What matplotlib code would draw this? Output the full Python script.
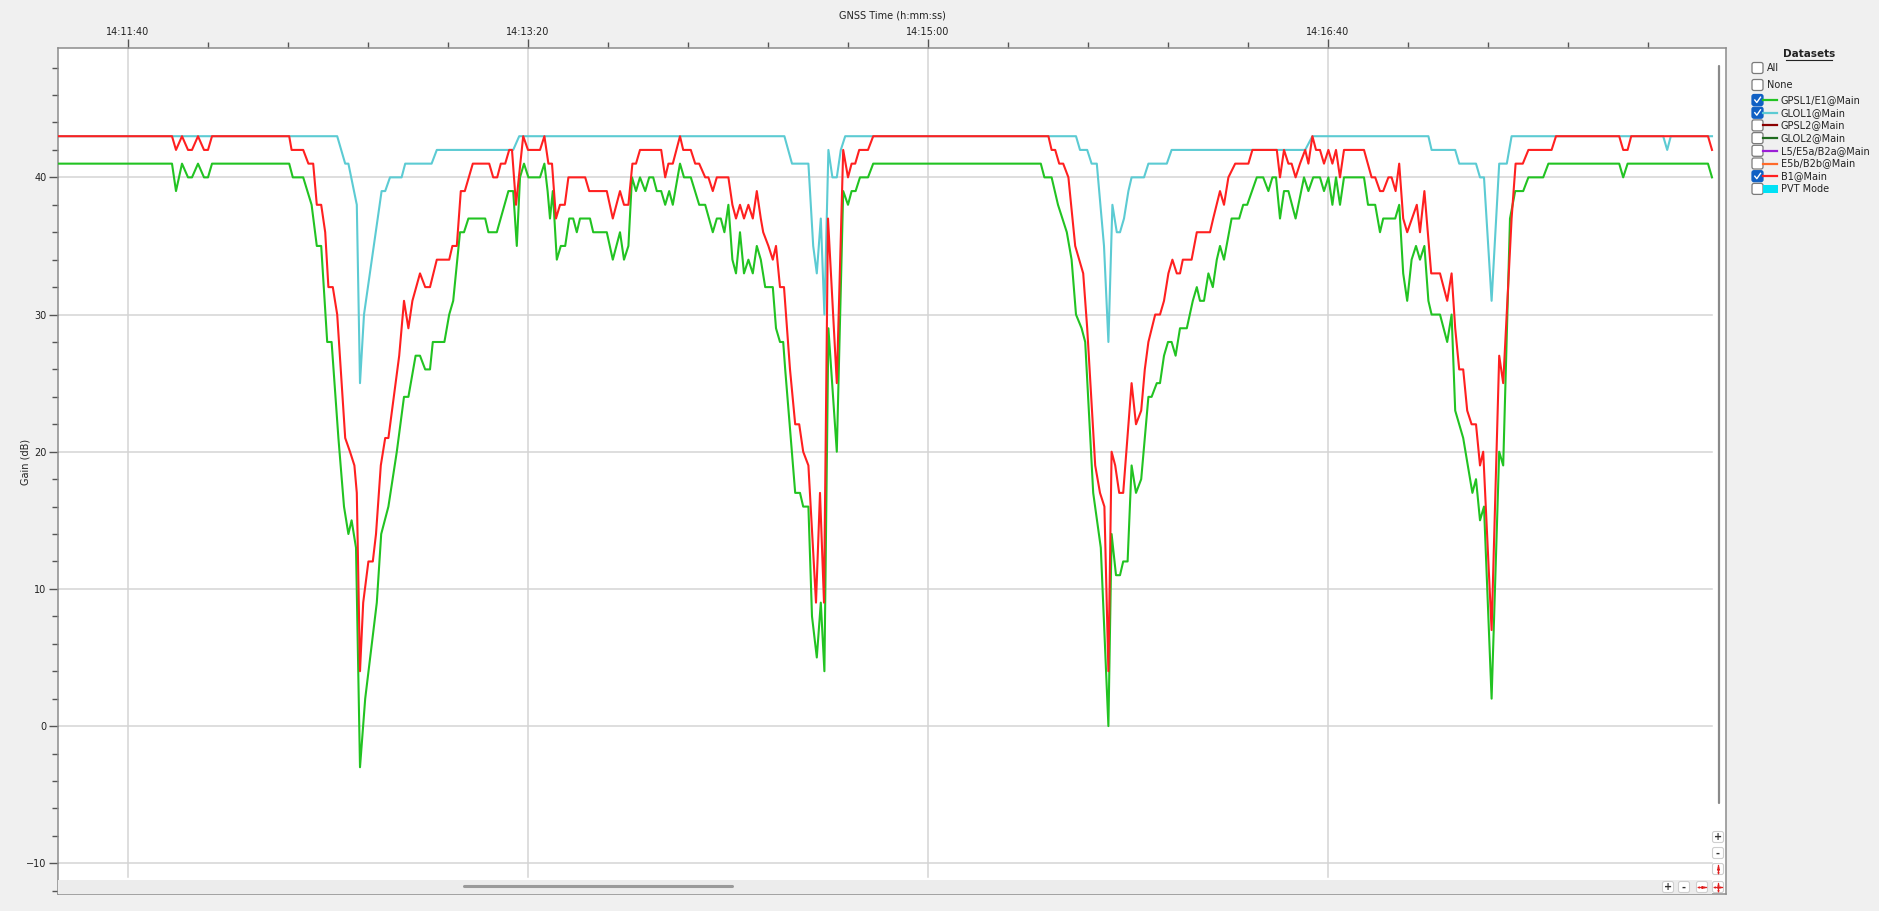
import matplotlib.pyplot as plt
import matplotlib.patches as mpatches
from matplotlib.ticker import MultipleLocator, FuncFormatter

# ─── data: seconds after 14:11:40, gain in dB ───
T0 = 14 * 3600 + 11 * 60 + 40

b1_t = [-18, 11, 12, 13.5, 15, 16, 17.5, 19, 20, 21,
        40.3, 40.9, 43.8, 45.1, 46.3, 47.2, 48.3, 49.3, 50.1, 51.2, 52.3, 54.3, 55.5, 56.6,
        57.2, 58, 58.8, 60.1, 61.2, 62, 63.2, 64.3, 65.1, 67.8, 69, 70.1, 71.1, 73, 74.3,
        75.5, 77.2, 80.3, 81.1, 82.2, 83.2, 84.2, 85.2, 86.2, 90.3, 91.3, 92.3, 93.2, 94.3,
        95.3, 96, 97, 98.8, 100, 103, 104.1, 105.1, 106, 107, 108, 109.2, 110.1, 114.3,
        115.3, 119.7, 121.2, 123, 124, 125.1, 126.1, 127, 128, 133.3, 134.3, 135.1, 136.2,
        138, 138.8, 140.7, 141.8, 142.8, 144.3, 145.1, 146.2, 147.2, 150.1, 151.1, 152, 153,
        154, 155.1, 156.2, 157.2, 158.2, 158.8, 160.1, 161.2, 162, 163, 164, 165.5, 166.8,
        167.8, 168.8, 170.1, 172, 173, 174, 175, 177.2, 178.8, 180, 180.9, 181.8, 182.8, 185,
        186.3, 230.1, 230.9, 231.8, 232.8, 233.8, 235.1, 236.8, 238.8, 239.8, 241.8, 243,
        244.1, 245.1, 245.9, 246.8, 247.8, 248.8, 250.9, 252, 253.3, 254.2, 255.1, 256.8,
        258, 259, 260.1, 261.1, 262.2, 263, 263.7, 265.9, 267.2, 270.5, 271.3, 273, 274,
        275.1, 276.8, 280.1, 281.1, 287.2, 288, 289, 290.1, 290.9, 291.9, 293, 294.3, 295.1,
        296.1, 297, 298, 299, 300.1, 301.1, 302, 303, 304, 309, 310.9, 311.8, 313, 313.8,
        315.1, 315.9, 316.9, 317.8, 318.8, 319.8, 322.2, 323, 324.1, 325.8, 328, 329.8,
        330.9, 331.8, 332.8, 333.8, 334.8, 335.9, 337, 338, 338.8, 340.9, 342.8, 343.8,
        345.9, 346.9, 348.7, 350.1, 355.9, 357, 372.8, 373.8, 374.9, 375.8, 395, 396]
b1_db = [43, 43, 42, 43, 42, 42, 43, 42, 42, 43,
         43, 42, 42, 41, 41, 38, 38, 36, 32, 32, 30, 21, 20, 19,
         17, 4, 9, 12, 12, 14, 19, 21, 21, 27, 31, 29, 31, 33, 32,
         32, 34, 34, 35, 35, 39, 39, 40, 41, 41, 40, 40, 41, 41,
         42, 42, 38, 43, 42, 42, 43, 41, 41, 37, 38, 38, 40, 40,
         39, 39, 37, 39, 38, 38, 41, 41, 42, 42, 40, 41, 41,
         43, 42, 42, 41, 41, 40, 40, 39, 40, 40, 38, 37, 38,
         37, 38, 37, 39, 37, 36, 35, 34, 35, 32, 32, 26, 22,
         22, 20, 19, 9, 17, 9, 37, 25, 42, 40, 41, 41, 42, 42,
         43, 43, 42, 42, 41, 41, 40, 35, 33, 29, 19, 17,
         16, 4, 20, 19, 17, 17, 25, 22, 23, 26, 28, 30,
         30, 31, 33, 34, 33, 33, 34, 34, 36, 36, 37, 39, 38,
         40, 41, 41, 42, 42, 40, 42, 41, 41, 40, 41, 42, 41,
         43, 42, 42, 41, 42, 41, 42, 40, 42, 42, 40, 40, 39, 39,
         40, 40, 39, 41, 37, 36, 38, 36, 39, 33, 33, 31,
         33, 29, 26, 26, 23, 22, 22, 19, 20, 7, 27, 25,
         37, 41, 41, 42, 42, 43, 43, 42, 42, 43, 43, 42]

gps_t = [-18, 11, 12, 13.5, 15, 16, 17.5, 19, 20, 21,
         40.3, 41.2, 43.8, 45.9, 47.2, 48.3, 49.8, 50.9, 52.6, 54, 55.1, 55.9, 57, 58, 59.3,
         62.2, 63.3, 65.1, 67.2, 69, 70.1, 71.9, 73, 74.3, 75.5, 76.2, 79.1, 80.3, 81.3, 83,
         84, 85.1, 89.3, 90.1, 92.2, 95.1, 96.3, 97.2, 98, 99, 100.1, 103, 104.1, 104.9,
         105.5, 106.2, 107.2, 108.2, 109.3, 110.3, 111.3, 112.2, 113, 115.5, 116.3, 119.7,
         121.2, 123, 124, 125.1, 126, 127, 128, 129.3, 130.3, 131.3, 132.2, 133.3, 134.3,
         135.3, 136.2, 138, 139, 140.7, 142.8, 144.3, 146.2, 147.2, 148.2, 149.1, 150.1,
         151.1, 152, 153, 154, 155.1, 156.2, 157.2, 158.2, 159.3, 161.2, 162, 163, 163.8,
         164.3, 166.8, 168, 168.8, 170.1, 171, 172.2, 173.2, 174.1, 175.1, 177.2, 178.8, 180,
         180.9, 181.9, 183, 185, 186.3, 228.2, 229.1, 230.9, 232.5, 234.7, 235.9, 237, 238.4,
         239.3, 241.3, 243.2, 245.1, 245.9, 247, 248, 248.8, 249.9, 250.9, 252, 253.3, 255.1,
         255.9, 257.2, 258, 259, 260, 260.9, 261.9, 263, 264.7, 266.2, 267.2, 268, 269,
         270.1, 271.2, 272.2, 273, 274, 275.9, 277.8, 278.8, 279.8, 282.2, 283.8, 285.1,
         286.1, 287, 288, 289, 290.1, 291.9, 294, 295.1, 296.3, 298, 299, 300.1, 301.1, 302,
         303, 304, 309, 310, 311.8, 313, 313.8, 316.8, 317.8, 318.8, 319.8, 320.9, 322, 323,
         324.1, 325.1, 325.9, 328, 329.8, 330.9, 331.8, 333.8, 336.1, 337, 338, 339, 340.9,
         342.8, 343.8, 345.5, 346.8, 348.8, 350.1, 353.8, 355.1, 372.8, 373.8, 374.9, 395,
         396]
gps_db = [41, 41, 39, 41, 40, 40, 41, 40, 40, 41,
          41, 40, 40, 38, 35, 35, 28, 28, 21, 16, 14, 15, 13, -3, 2,
          9, 14, 16, 20, 24, 24, 27, 27, 26, 26, 28, 28, 30, 31, 36,
          36, 37, 37, 36, 36, 39, 39, 35, 40, 41, 40, 40, 41, 39,
          37, 39, 34, 35, 35, 37, 37, 36, 37, 37, 36, 36,
          34, 36, 34, 35, 40, 39, 40, 39, 40, 40, 39, 39, 38,
          39, 38, 41, 40, 40, 38, 38, 36, 37, 37, 36, 38,
          34, 33, 36, 33, 34, 33, 35, 34, 32, 32, 29, 28, 28,
          26, 17, 17, 16, 16, 8, 5, 9, 4, 29, 20, 39, 38,
          39, 39, 40, 40, 41, 41, 40, 40, 38, 36, 34, 30, 29,
          28, 17, 13, 0, 14, 11, 11, 12, 12, 19, 17, 18, 24,
          24, 25, 25, 27, 28, 28, 27, 29, 29, 31, 32, 31, 31,
          33, 32, 34, 35, 34, 37, 37, 38, 38, 40, 40, 39,
          40, 40, 37, 39, 39, 37, 40, 39, 40, 40, 39, 40, 38, 40,
          38, 40, 40, 38, 38, 36, 37, 37, 38, 33, 31, 34, 35, 34,
          35, 31, 30, 30, 28, 30, 23, 21, 17, 18, 15, 16, 2,
          20, 19, 37, 39, 39, 40, 40, 41, 41, 40, 41, 41,
          40]

glo_t = [-18, 52.3, 54.3, 55.1, 57.2, 58, 59, 63.4, 64.3, 65.5, 68.4, 69.3, 75.9, 77.2,
         96.3, 97.8, 164.1, 166, 170.1, 171.3, 172.2, 173.2, 174.1, 175.1, 176.1, 177.2,
         178.2, 179.3, 237, 238, 239.8, 240.9, 242.2, 244, 245.1, 246.1, 247.2, 248, 249,
         250.1, 250.9, 254, 255.1, 259.7, 260.9, 294.3, 296.1, 325.1, 325.9, 331.8, 332.8,
         337, 338, 339, 340.9, 342.8, 344.7, 345.9, 383.8, 384.8, 385.7, 396]
glo_db = [43, 43, 41, 41, 38, 25, 30, 39, 39, 40, 40, 41, 41, 42,
          42, 43, 43, 41, 41, 35, 33, 37, 30, 42, 40, 40,
          42, 43, 43, 42, 42, 41, 41, 35, 28, 38, 36, 36, 37,
          39, 40, 40, 41, 41, 42, 42, 43, 43, 42, 42, 41,
          41, 40, 40, 31, 41, 41, 43, 43, 42, 43, 43]

y_ticks = [-10, 0, 10, 20, 30, 40]

legend_rows = ["GPSL1/E1@Main", "GLOL1@Main", "GPSL2@Main", "GLOL2@Main",
               "L5/E5a/B2a@Main", "E5b/B2b@Main", "B1@Main", "PVT Mode"]
legend_colors = ['#22c322', '#5ccbd3', '#8b0000', '#1f6b1f',
                 '#9b1fd6', '#ff6a2a', '#ff2020', '#00e1f5']
legend_checked = [True, True, False, False, False, False, True, False]

W, H = 1879, 911
fig = plt.figure(figsize=(W / 100, H / 100), dpi=100, facecolor='#f0f0f0')

# main plot widget, positioned in pixels
L, R, TOP, BOT = 57.6, 1726, 48, 894
ax = fig.add_axes([L / W, 1 - BOT / H, (R - L) / W, (BOT - TOP) / H])
ax.set_facecolor('white')
ax.set_xlim(T0 - 17.6, T0 + 399.5)
ax.set_ylim(-12.24, 49.43)

data_right = (1712 - L) / (R - L)
grid_bottom = (BOT - 877) / (BOT - TOP)
for yv in y_ticks:
    ax.axhline(yv, xmin=0, xmax=data_right, color='#d4d4d4', lw=1.1, zorder=1)
for xv in range(T0, T0 + 400, 100):
    ax.axvline(xv, ymin=grid_bottom, ymax=1, color='#d4d4d4', lw=1.1, zorder=1)

ax.plot([T0 + t for t in gps_t], gps_db, color='#22c322', lw=1.5, zorder=3)
ax.plot([T0 + t for t in glo_t], glo_db, color='#5ccbd3', lw=1.5, zorder=2)
ax.plot([T0 + t for t in b1_t], b1_db, color='#ff2020', lw=1.5, zorder=4)

# axes ticks / labels
def hms(x, pos):
    x = int(round(x))
    return f"{x // 3600}:{(x % 3600) // 60:02d}:{x % 60:02d}"

ax.xaxis.tick_top()
ax.xaxis.set_major_locator(MultipleLocator(100))
ax.xaxis.set_minor_locator(MultipleLocator(20))
ax.xaxis.set_major_formatter(FuncFormatter(hms))
ax.yaxis.set_major_locator(MultipleLocator(10))
ax.yaxis.set_minor_locator(MultipleLocator(2))
ax.tick_params(which='major', length=6.5, width=1, color='#555555',
               labelsize=7, labelcolor='#222222', pad=1.5)
ax.tick_params(which='minor', length=4, width=1, color='#555555')
for sp in ax.spines.values():
    sp.set_color('#8c8c8c')
    sp.set_linewidth(1.1)

# horizontal scroll band at the bottom of the plot
ax.add_patch(mpatches.Rectangle((0, 0), data_right, (BOT - 880) / (BOT - TOP),
                                transform=ax.transAxes, facecolor='#ececec',
                                edgecolor='none', zorder=5))
slider_y = (BOT - 886) / (BOT - TOP)
ax.plot([(464 - L) / (R - L), (732 - L) / (R - L)], [slider_y, slider_y],
        transform=ax.transAxes, color='#9a9a9a', lw=2.2, zorder=6,
        solid_capstyle='round')

fig.text(892 / W, 1 - 16 / H, "GNSS Time (h:mm:ss)", ha='center', va='center',
         fontsize=7, color='#222222')
fig.text(25 / W, 1 - 462 / H, "Gain (dB)", ha='center', va='center',
         rotation=90, fontsize=7, color='#222222')

# overlay in pixel coordinates for widget decorations and the dataset panel
ui = fig.add_axes([0, 0, 1, 1], zorder=10)
ui.set_xlim(0, W)
ui.set_ylim(H, 0)
ui.axis('off')
ui.patch.set_visible(False)

# vertical scroll slider
ui.plot([1719, 1719], [66, 803], color='#8a8a8a', lw=1.6, solid_capstyle='round')


def button(x, y, label=None):
    ui.add_patch(mpatches.FancyBboxPatch((x - 5.5, y - 5.5), 11, 11,
                                         boxstyle='round,pad=0,rounding_size=2',
                                         facecolor='white', edgecolor='#cfcfcf', lw=0.8))
    if label:
        ui.text(x, y + 0.5, label, ha='center', va='center', fontsize=7,
                fontweight='bold', color='#333333')


def red_arrows(x, y, vert=True, horiz=True):
    button(x, y)
    if vert:
        ui.plot([x, x], [y - 4, y + 4], color='#e02020', lw=0.9)
        ui.plot([x], [y - 3.5], marker='^', ms=1.8, color='#e02020', mew=0)
        ui.plot([x], [y + 3.5], marker='v', ms=1.8, color='#e02020', mew=0)
    if horiz:
        ui.plot([x - 4, x + 4], [y, y], color='#e02020', lw=0.9)
        ui.plot([x - 3.5], [y], marker='<', ms=1.8, color='#e02020', mew=0)
        ui.plot([x + 3.5], [y], marker='>', ms=1.8, color='#e02020', mew=0)
    ui.plot([x], [y], marker='o', ms=2.2, color='#e02020', mew=0)


button(1718, 837, '+')
button(1718, 853, '-')
red_arrows(1718, 869, vert=True, horiz=False)
button(1668, 887, '+')
button(1684, 887, '-')
red_arrows(1702, 887, vert=False, horiz=True)
red_arrows(1718, 887)

# dataset panel
ui.text(1809, 54, "Datasets", ha='center', va='center', fontsize=7.5,
        fontweight='bold', color='#222222')
ui.plot([1786, 1832], [59.5, 59.5], color='#222222', lw=0.8)


def checkbox(x, y, checked):
    fc = '#1060c4' if checked else 'white'
    ec = '#1060c4' if checked else '#7a7a7a'
    ui.add_patch(mpatches.FancyBboxPatch((x, y - 5.5), 11, 11,
                                         boxstyle='round,pad=0,rounding_size=2',
                                         facecolor=fc, edgecolor=ec, lw=0.9))
    if checked:
        ui.plot([x + 2.8, x + 4.8, x + 8.5], [y, y + 2.5, y - 2.8],
                color='white', lw=1.0)


checkbox(1752, 68, False)
ui.text(1767, 68, "All", ha='left', va='center', fontsize=7, color='#222222')
checkbox(1752, 85, False)
ui.text(1767, 85, "None", ha='left', va='center', fontsize=7, color='#222222')
for i, (name, col, chk) in enumerate(zip(legend_rows, legend_colors, legend_checked)):
    yy = 100 + i * 12.7
    checkbox(1752, yy, chk)
    if name == "PVT Mode":
        ui.add_patch(mpatches.Rectangle((1763, yy - 4), 15, 8, facecolor=col,
                                        edgecolor='none'))
    else:
        ui.plot([1763, 1777], [yy, yy], color=col, lw=1.6)
    ui.text(1781, yy, name, ha='left', va='center', fontsize=7, color='#222222')

fig.savefig('out.png', dpi=100, facecolor=fig.get_facecolor())
